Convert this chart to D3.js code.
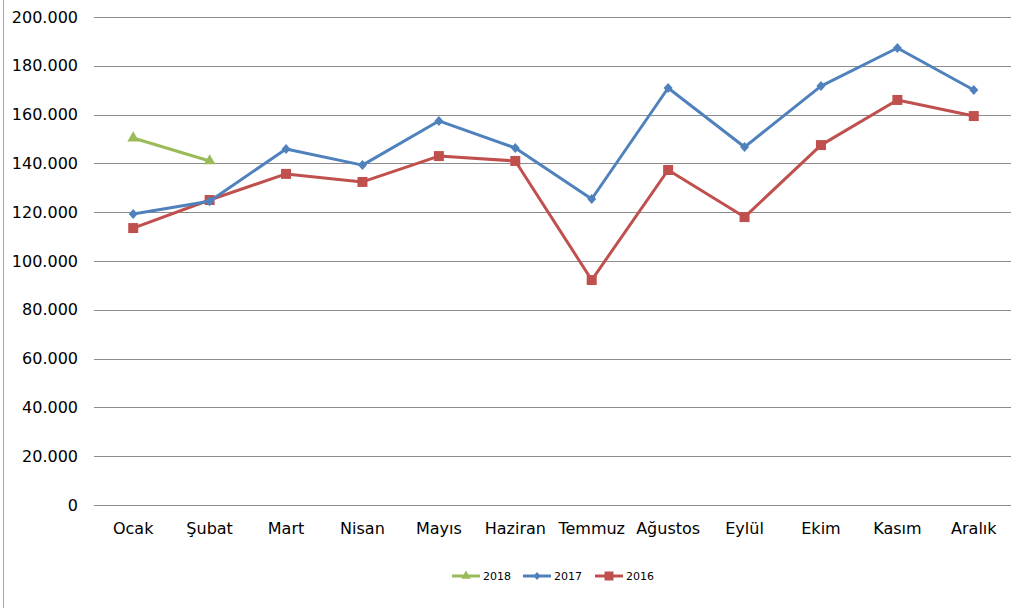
<!DOCTYPE html>
<html>
<head>
<meta charset="utf-8">
<script src="https://cdn.jsdelivr.net/npm/d3@7"></script>
<style>
body { margin: 0; background: #fff; }
svg { display: block; }
</style>
</head>
<body>
<div id="chart"></div>
<script>
var months = ["Ocak", "Şubat", "Mart", "Nisan", "Mayıs", "Haziran", "Temmuz", "Ağustos", "Eylül", "Ekim", "Kasım", "Aralık"];
var s2018 = [150400, 141000];
var s2017 = [119300, 124500, 145900, 139300, 157400, 146300, 125400, 170900, 146700, 171700, 187300, 170100];
var s2016 = [113500, 125000, 135700, 132400, 143000, 141000, 92200, 137300, 118000, 147500, 166000, 159400];
var yTicks = [0, 20000, 40000, 60000, 80000, 100000, 120000, 140000, 160000, 180000, 200000];

var series = [
    { name: "2018", values: s2018, color: "#9BBB59", marker: "triangle" },
    { name: "2017", values: s2017, color: "#4F81BD", marker: "diamond" },
    { name: "2016", values: s2016, color: "#C0504D", marker: "square" }
];

var svg = d3.select("#chart")
        .append("svg")
        .attr("width", 1024)
        .attr("height", 608);

// outer frame (only left edge visible)
svg.append("line")
        .attr("x1", 3.5).attr("x2", 3.5)
        .attr("y1", 0).attr("y2", 608)
        .attr("stroke", "#a6a6a6")
        .attr("stroke-width", 1);

var x = d3.scaleBand()
        .domain(months)
        .range([95, 1012]);

var y = d3.scaleLinear()
        .domain([0, 200000])
        .range([505, 17]);

var fmt = function (d) {
    return d === 0 ? "0" : d3.format(",")(d).replace(/,/g, ".");
};

// gridlines
svg.append("g")
        .selectAll("line")
        .data(yTicks)
        .enter()
        .append("line")
        .attr("x1", 94)
        .attr("x2", 1011)
        .attr("y1", function (d) { return Math.round(y(d)) + 0.5; })
        .attr("y2", function (d) { return Math.round(y(d)) + 0.5; })
        .attr("stroke", "#8c8c8c")
        .attr("stroke-width", 1);

// y labels
var yAxis = d3.axisLeft(y).tickValues(yTicks).tickFormat(fmt).tickSize(0).tickPadding(0);
var yg = svg.append("g")
        .attr("transform", "translate(78,0)")
        .call(yAxis);
yg.select(".domain").remove();
yg.selectAll("text")
        .attr("font-family", "DejaVu Sans")
        .attr("font-size", "16px")
        .attr("fill", "#000");

// x labels
var xAxis = d3.axisBottom(x).tickSize(0).tickPadding(0);
var xg = svg.append("g")
        .attr("transform", "translate(0,523)")
        .call(xAxis);
xg.select(".domain").remove();
xg.selectAll("text")
        .attr("font-family", "DejaVu Sans")
        .attr("font-size", "16px")
        .attr("fill", "#000");

var cx = function (i) { return x(months[i]) + x.bandwidth() / 2; };

var line = d3.line()
        .x(function (d, i) { return cx(i); })
        .y(function (d) { return y(d); });

function markerPath(type) {
    if (type === "triangle") return d3.symbol().type(d3.symbolTriangle).size(60)();
    if (type === "diamond") return "M0,-5L4.5,0L0,5L-4.5,0Z";
    return "M-5,-5H5V5H-5Z";
}

// draw 2016 first so 2017 and 2018 sit on top as in the original
series.slice().reverse().forEach(function (s) {
    var g = svg.append("g");
    g.append("path")
            .datum(s.values)
            .attr("d", line)
            .attr("fill", "none")
            .attr("stroke", s.color)
            .attr("stroke-width", 3)
            .attr("stroke-linejoin", "round");
    g.selectAll(".m")
            .data(s.values)
            .enter()
            .append("path")
            .attr("transform", function (d, i) { return "translate(" + cx(i) + "," + y(d) + ")"; })
            .attr("d", markerPath(s.marker))
            .attr("fill", s.color);
});

// legend
var legendX = [452, 523, 595];
var leg = svg.append("g");
series.forEach(function (s, i) {
    var lg = leg.append("g").attr("transform", "translate(" + legendX[i] + ",576)");
    lg.append("line")
            .attr("x1", 0).attr("x2", 28)
            .attr("y1", 0).attr("y2", 0)
            .attr("stroke", s.color)
            .attr("stroke-width", 3);
    lg.append("path")
            .attr("transform", "translate(14,0)" + (s.marker === "square" ? " scale(0.9)" : " scale(0.8)"))
            .attr("d", markerPath(s.marker))
            .attr("fill", s.color);
    lg.append("text")
            .attr("x", 31)
            .attr("y", 4)
            .attr("font-family", "DejaVu Sans")
            .attr("font-size", "11px")
            .attr("fill", "#000")
            .text(s.name);
});
</script>
</body>
</html>
